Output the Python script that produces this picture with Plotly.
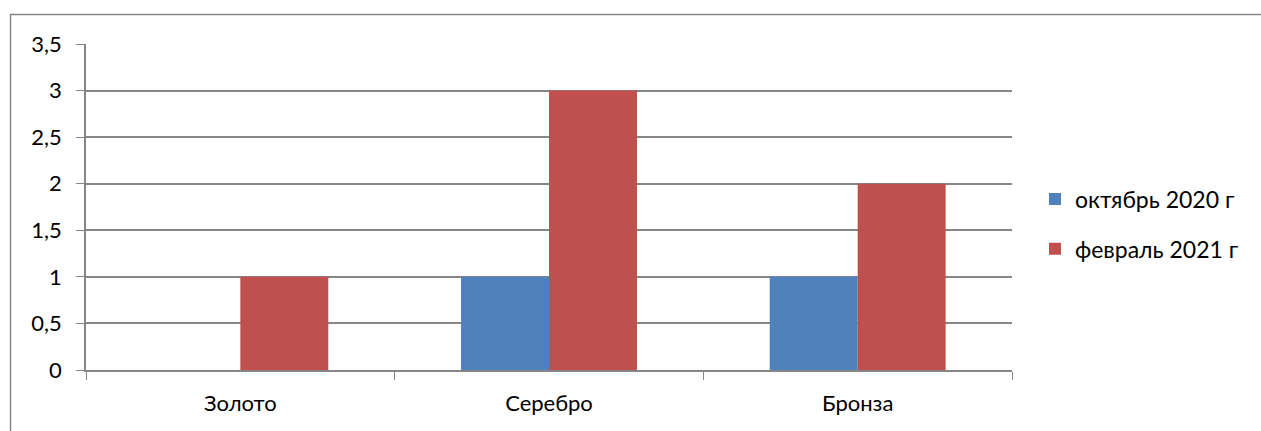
import plotly.graph_objects as go

categories = ["Золото", "Серебро", "Бронза"]
series_names = ["октябрь 2020 г", "февраль 2021 г"]
oct_2020 = [0, 1, 1]
feb_2021 = [1, 3, 2]
colors = ["#4F81BD", "#C0504D"]

fig = go.Figure()
for i, (name, vals) in enumerate(zip(series_names, [oct_2020, feb_2021])):
    fig.add_trace(go.Bar(x=categories, y=vals, name=name, marker_color=colors[i],
                         marker_line_width=0, legendgroup=name))

W, H = 1261, 431
L, R, T, B = 86, 249, 44, 61
pw, ph = W - L - R, H - T - B

def px(x):
    return (x - L) / pw

def py(y):
    return (H - B - y) / ph

fig.update_layout(
    width=W, height=H,
    margin=dict(l=L, r=R, t=T, b=B),
    paper_bgcolor="white", plot_bgcolor="white",
    separators=", ",
    barmode="group", bargap=0.43, bargroupgap=0,
    font=dict(family="Lato, Carlito, Noto Sans, sans-serif", size=22, color="#000000"),
    showlegend=True,
    legend=dict(x=px(1035), xanchor="left", y=py(224), yanchor="middle",
                traceorder="grouped", tracegroupgap=17,
                font=dict(size=23), bgcolor="rgba(0,0,0,0)"),
    xaxis=dict(type="category", tickson="boundaries", ticks="outside", ticklen=8,
               tickcolor="#868686", showline=True, linecolor="#868686", linewidth=1.5,
               showgrid=False, fixedrange=True, ticklabelstandoff=13),
    yaxis=dict(range=[0, 3.5], dtick=0.5, ticks="outside", ticklen=8,
               tickcolor="#868686", showline=True, linecolor="#868686", linewidth=1.5,
               showgrid=True, gridcolor="#868686", gridwidth=1.5, zeroline=False,
               ticklabelstandoff=10),
    shapes=[dict(type="rect", xref="paper", yref="paper",
                 x0=px(10.5), x1=px(1275), y0=py(445), y1=py(14.5),
                 line=dict(color="#868686", width=1.5), layer="below")],
)

fig.write_html("out.html")
